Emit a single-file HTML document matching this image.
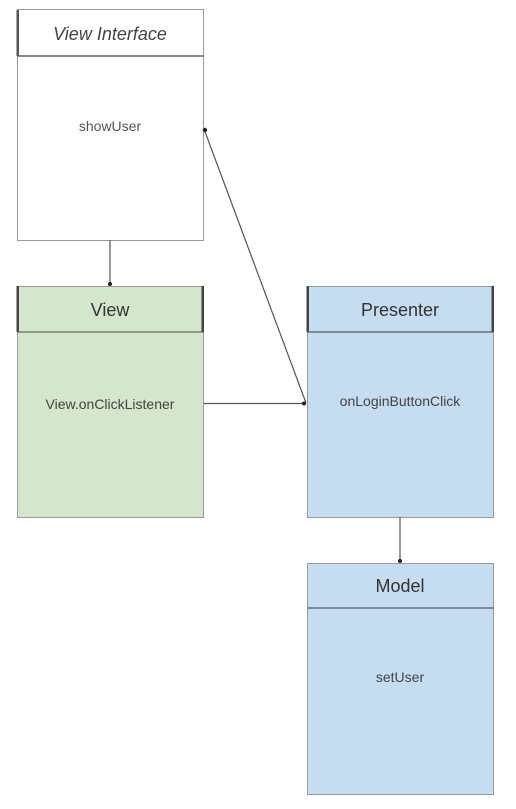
<!DOCTYPE html>
<html><head><style>
html,body{margin:0;padding:0;background:#fff;}
svg text{font-family:"Liberation Sans",Arial,sans-serif;}
</style></head><body>
<svg width="516" height="804" viewBox="0 0 516 804" xmlns="http://www.w3.org/2000/svg">
<!-- View Interface -->
<rect x="17.5" y="9.5" width="186" height="231" fill="#fff" stroke="#999" stroke-width="1"/>
<line x1="17" y1="56" x2="204" y2="56" stroke="#888" stroke-width="2"/>
<rect x="16.5" y="10" width="2.5" height="46" fill="#555"/>
<text x="110" y="40" font-size="18" font-style="italic" fill="#444" text-anchor="middle">View Interface</text>
<text x="110" y="131" font-size="14" fill="#555" text-anchor="middle">showUser</text>

<!-- View -->
<rect x="17.5" y="286.5" width="186" height="231" fill="#d4e6cb" stroke="#999" stroke-width="1"/>
<line x1="17" y1="332" x2="204" y2="332" stroke="#8a9a84" stroke-width="2"/>
<rect x="16.5" y="286" width="2.5" height="46" fill="#444"/>
<rect x="201.5" y="286" width="2.5" height="46" fill="#444"/>
<text x="110" y="316" font-size="18" fill="#333" text-anchor="middle">View</text>
<text x="110" y="409" font-size="14" fill="#444" text-anchor="middle">View.onClickListener</text>

<!-- Presenter -->
<rect x="307.5" y="286.5" width="186" height="231" fill="#c6dcf0" stroke="#999" stroke-width="1"/>
<line x1="307" y1="332" x2="494" y2="332" stroke="#7d8a98" stroke-width="2"/>
<rect x="306.5" y="286" width="2.5" height="46" fill="#444"/>
<rect x="491.5" y="286" width="2.5" height="46" fill="#444"/>
<text x="400" y="316" font-size="18" fill="#333" text-anchor="middle">Presenter</text>
<text x="400" y="406" font-size="14" fill="#444" text-anchor="middle">onLoginButtonClick</text>

<!-- Model -->
<rect x="307.5" y="563.5" width="186" height="231" fill="#c6dcf0" stroke="#999" stroke-width="1"/>
<line x1="307" y1="608" x2="494" y2="608" stroke="#7d8a98" stroke-width="2"/>
<text x="400" y="592" font-size="18" fill="#333" text-anchor="middle">Model</text>
<text x="400" y="682" font-size="14" fill="#444" text-anchor="middle">setUser</text>

<!-- connectors -->
<g stroke="#555" stroke-width="1.2" fill="none">
<line x1="110" y1="240" x2="110" y2="285"/>
<line x1="204" y1="403.5" x2="306" y2="403.5"/>
<line x1="400" y1="517" x2="400" y2="562"/>
<line x1="306" y1="403" x2="204" y2="129"/>
</g>
<g fill="#222">
<circle cx="110" cy="284" r="2"/>
<circle cx="304" cy="403.5" r="2"/>
<circle cx="400" cy="561" r="2"/>
<circle cx="205" cy="130" r="2.2"/>
</g>
</svg>
</body></html>
